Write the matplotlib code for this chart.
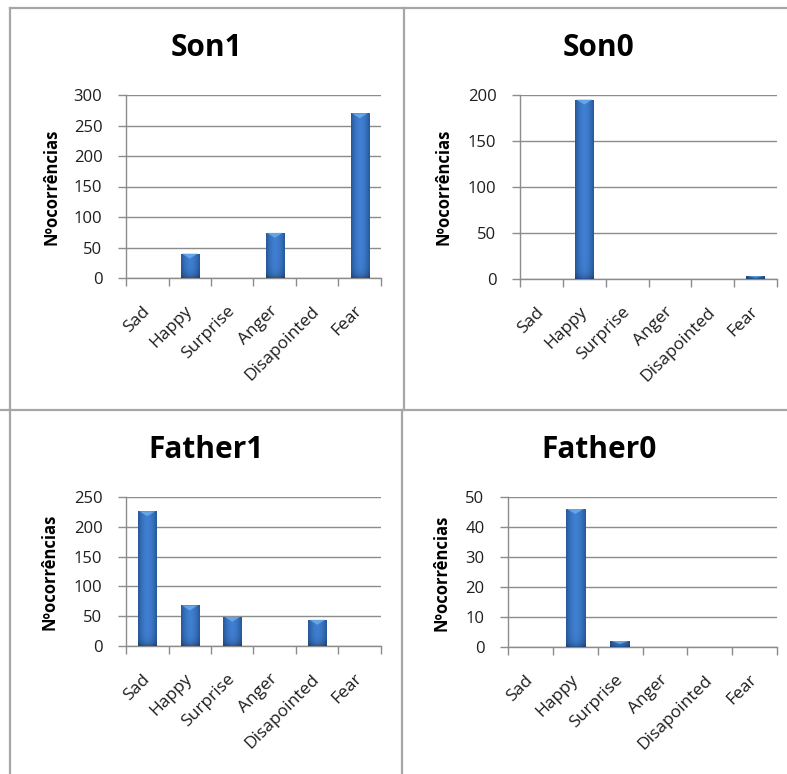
import numpy as np
import matplotlib
matplotlib.use("Agg")
import matplotlib.pyplot as plt
from matplotlib.lines import Line2D
from matplotlib.patches import Polygon

plt.rcParams['font.family'] = ['Open Sans', 'DejaVu Sans']

categories = ["Sad", "Happy", "Surprise", "Anger", "Disapointed", "Fear"]

son1 = [0, 40, 0, 74, 0, 270]
son0 = [0, 195, 0, 0, 0, 3]
father1 = [226, 68, 49, 0, 44, 0]
father0 = [0, 46, 2, 0, 0, 0]

titles = ["Son1", "Son0", "Father1", "Father0"]
series = [son1, son0, father1, father0]
y_max = [300, 200, 250, 50]
y_step = [50, 50, 50, 10]
y_label = "Nºocorrências"

W, H = 787, 774
fig = plt.figure(figsize=(W / 100, H / 100), dpi=100)


def fx(px):
    return px / W


def fy(py):
    return 1 - py / H


# axes boxes in pixels: left, top, right, bottom
boxes = [(126, 95, 381, 278), (520, 95, 777, 279),
         (126, 497, 381, 646), (508, 497, 777, 647)]
title_pos = [(206, 48), (599, 48), (206, 450), (599, 450)]
ylabel_pos = [(51, 187), (443, 187), (49, 572), (442, 573)]

grid_col = "#8c8c8c"
text_col = "#1e1e1e"

# horizontal colour profile used to shade each bar
gx = np.linspace(-1, 1, 64)
shade = 1 - np.abs(gx) ** 1.8
dark = np.array([0.15, 0.34, 0.60])
light = np.array([0.25, 0.50, 0.82])
row = dark[None, :] + (light - dark)[None, :] * shade[:, None]


def bar_gradient(height_px):
    n = max(int(round(height_px)), 2)
    dist = np.arange(n)[::-1].astype(float)  # rows from top; last row = bottom
    vfac = 1 - 0.28 * np.exp(-dist / 4.0)
    return np.clip(row[None, :, :] * vfac[:, None, None], 0, 1)


for i, (vals, box) in enumerate(zip(series, boxes)):
    l, t, r, b = box
    ax = fig.add_axes([fx(l), fy(b), fx(r - l), (b - t) / H])
    x = np.arange(len(categories))
    bars = ax.bar(x, vals, width=0.43, color="#3a70b5", edgecolor="none", zorder=3)
    ax.set_xlim(-0.5, len(categories) - 0.5)
    ax.set_ylim(0, y_max[i])
    ax.set_yticks(np.arange(0, y_max[i] + 1, y_step[i]))
    ax.yaxis.grid(True, color=grid_col, linewidth=1.0, zorder=0)
    ax.set_axisbelow(True)

    # per-bar shading and top bevel
    px_per_unit = (b - t) / y_max[i]
    for p, v in zip(bars.patches, vals):
        if v <= 0:
            continue
        x0 = p.get_x()
        x1 = x0 + p.get_width()
        im = ax.imshow(bar_gradient(v * px_per_unit), extent=[x0, x1, 0, v],
                       aspect="auto", interpolation="bilinear", zorder=4)
        im.set_clip_path(p)
        d = min(5 / px_per_unit, v * 0.5)
        xc = (x0 + x1) / 2
        bevel = Polygon([[x0 + 0.03, v], [x1 - 0.03, v], [xc, v - d]],
                        closed=True, facecolor="#6aaae8", edgecolor="none",
                        alpha=0.9, zorder=5)
        ax.add_patch(bevel)

    # category boundaries carry the x tick marks
    ax.set_xticks(np.arange(-0.5, len(categories) + 0.5, 1), minor=False)
    ax.set_xticklabels([])
    ax.set_xticks(x, minor=True)
    ax.set_xticklabels(categories, minor=True, rotation=45, ha="right",
                       va="center", rotation_mode="anchor",
                       fontsize=12.5, color=text_col)
    ax.tick_params(axis="x", which="major", length=6, width=1, color=grid_col,
                   direction="out")
    ax.tick_params(axis="x", which="minor", length=0, pad=22)
    ax.tick_params(axis="y", length=6, width=1, color=grid_col, direction="out",
                   labelsize=12, labelcolor=text_col, pad=11)

    for s in ["top", "right"]:
        ax.spines[s].set_visible(False)
    for s in ["left", "bottom"]:
        ax.spines[s].set_color(grid_col)
        ax.spines[s].set_linewidth(1.0)

    tx, ty = title_pos[i]
    fig.text(fx(tx), fy(ty), titles[i], ha="center", va="center",
             fontsize=21.5, fontweight="bold", color="black")
    lx, ly = ylabel_pos[i]
    fig.text(fx(lx), fy(ly), y_label, ha="center", va="center", rotation=90,
             fontsize=12, fontweight="bold", color="black")

# panel frame lines
frame_col = "#a6a6a6"
frame = [((10, 787), (8, 8)), ((10, 10), (8, 774)), ((0, 787), (410, 410)),
         ((404, 404), (8, 410)), ((402, 402), (410, 774))]
for xs, ys in frame:
    fig.add_artist(Line2D([fx(xs[0]), fx(xs[1])], [fy(ys[0]), fy(ys[1])],
                          color=frame_col, linewidth=1.6,
                          transform=fig.transFigure))

fig.savefig("out.png", dpi=100, facecolor="white")
